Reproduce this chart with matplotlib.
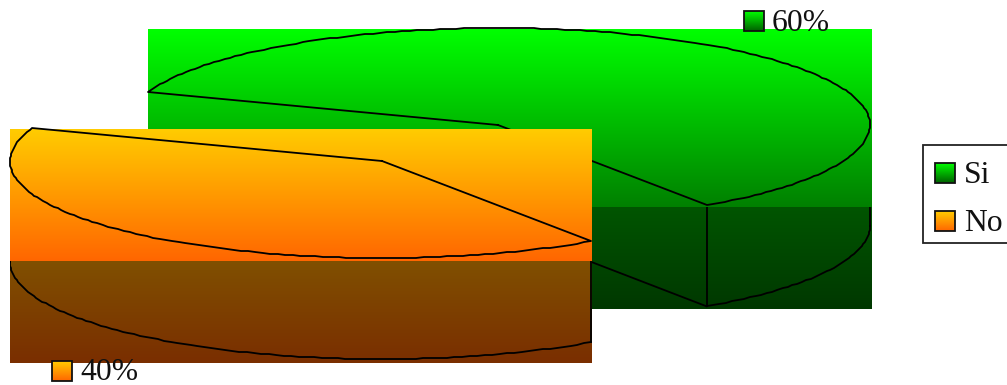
import numpy as np
import matplotlib
matplotlib.use("Agg")
import matplotlib.pyplot as plt
from matplotlib.colors import LinearSegmentedColormap
from matplotlib.patches import Rectangle

categories = ["Si", "No"]
values = [60, 40]
value_labels = ["60%", "40%"]

plt.rcParams["font.family"] = ["Liberation Serif", "DejaVu Serif"]

START_ANGLE = 160.1  # where the first slice begins on the ellipse
A, B = 372, 97       # ellipse half axes in pixels
DEPTH = 101          # height of the pie wall
LW = 1.3

def gradient(ax, box, top, bottom):
    cmap = LinearSegmentedColormap.from_list("g", [top, bottom])
    grad = np.linspace(0, 1, 256).reshape(-1, 1)
    x0, x1, y0, y1 = box
    ax.imshow(grad, cmap=cmap, extent=(x0, x1, y1, y0), aspect="auto", zorder=ax.z)
    ax.z += 1

def arc(t0, t1, cx, cy):
    # stepped polyline, the original outline is not smooth either
    t = np.radians(np.linspace(t0, t1, int(abs(t1 - t0) / 1.2) + 1))
    return np.round(cx + A * np.cos(t)), np.round(cy - B * np.sin(t))

def draw_slice(ax, t0, t1, cx, cy, split, box, colors):
    x0, x1, y0, y1 = box
    gradient(ax, (x0, x1, y0, split), colors[0], colors[1])
    gradient(ax, (x0, x1, split, y1), colors[2], colors[3])

    # wall, only the part of the rim that faces the viewer
    wall = Rectangle((x0, split), x1 - x0, y1 - split, transform=ax.transData)
    front0 = max(t1, -180)
    front1 = min(t0, 0)
    wx, wy = arc(front0, front1, cx, cy + DEPTH)
    rim, = ax.plot(wx, wy, color="black", lw=LW, zorder=ax.z)
    rim.set_clip_path(wall)
    for t in (front0, front1):
        px = cx + A * np.cos(np.radians(t))
        py = cy - B * np.sin(np.radians(t))
        edge, = ax.plot([px, px], [py, py + DEPTH], color="black", lw=LW, zorder=ax.z)
        edge.set_clip_path(wall)
    if front1 == 0:
        # cut face of the slice left of the corner
        px = cx + A * np.cos(np.radians(front0))
        py = cy - B * np.sin(np.radians(front0))
        cut, = ax.plot([cx, px], [cy + DEPTH, py + DEPTH], color="black", lw=LW, zorder=ax.z)
        cut.set_clip_path(wall)

    # top face
    tx, ty = arc(t0, t1, cx, cy)
    xs = np.concatenate([[cx], tx, [cx]])
    ys = np.concatenate([[cy], ty, [cy]])
    ax.plot(xs, ys, color="black", lw=LW, zorder=ax.z)
    ax.z += 1

def swatch(ax, x, y, top, bottom):
    ax.z += 1
    gradient(ax, (x, x + 20, y, y + 20), top, bottom)
    ax.add_patch(Rectangle((x, y), 20, 20, fill=False, ec="#111111", lw=LW, zorder=ax.z))

fig = plt.figure(figsize=(10.07, 3.85), dpi=100)
ax = fig.add_axes([0, 0, 1, 1])
ax.z = 1

angles = START_ANGLE - np.cumsum([0] + values) * 3.6

# green slice, then the orange one pulled out over it
draw_slice(ax, angles[0], angles[1], 498, 125, 207, (148, 872, 29, 309),
           ["#00ff00", "#008000", "#005500", "#003800"])
draw_slice(ax, angles[1], angles[2], 382, 161, 261, (10, 592, 129, 363),
           ["#ffcc00", "#ff6600", "#805000", "#7a2e00"])

# data labels
swatch(ax, 744, 11, "#00ff00", "#006000")
ax.text(772, 31, value_labels[0], fontsize=22.8, color="#111111", va="baseline", zorder=50)
swatch(ax, 52, 361, "#ffcc00", "#ff6600")
ax.text(80, 380, value_labels[1], fontsize=22.8, color="#111111", va="baseline", zorder=50)

# legend
ax.add_patch(Rectangle((923, 145), 95, 98, fc="white", ec="#222222", lw=LW, zorder=40))
ax.z = 41
swatch(ax, 935, 163, "#00ff00", "#006000")
swatch(ax, 935, 211, "#ffcc00", "#ff6600")
ax.text(964, 183, categories[0], fontsize=22.8, color="#111111", va="baseline", zorder=50)
ax.text(964, 231, categories[1], fontsize=22.8, color="#111111", va="baseline", zorder=50)

ax.set_xlim(0, 1007)
ax.set_ylim(385, 0)
ax.axis("off")

plt.savefig("out.png", dpi=100)
